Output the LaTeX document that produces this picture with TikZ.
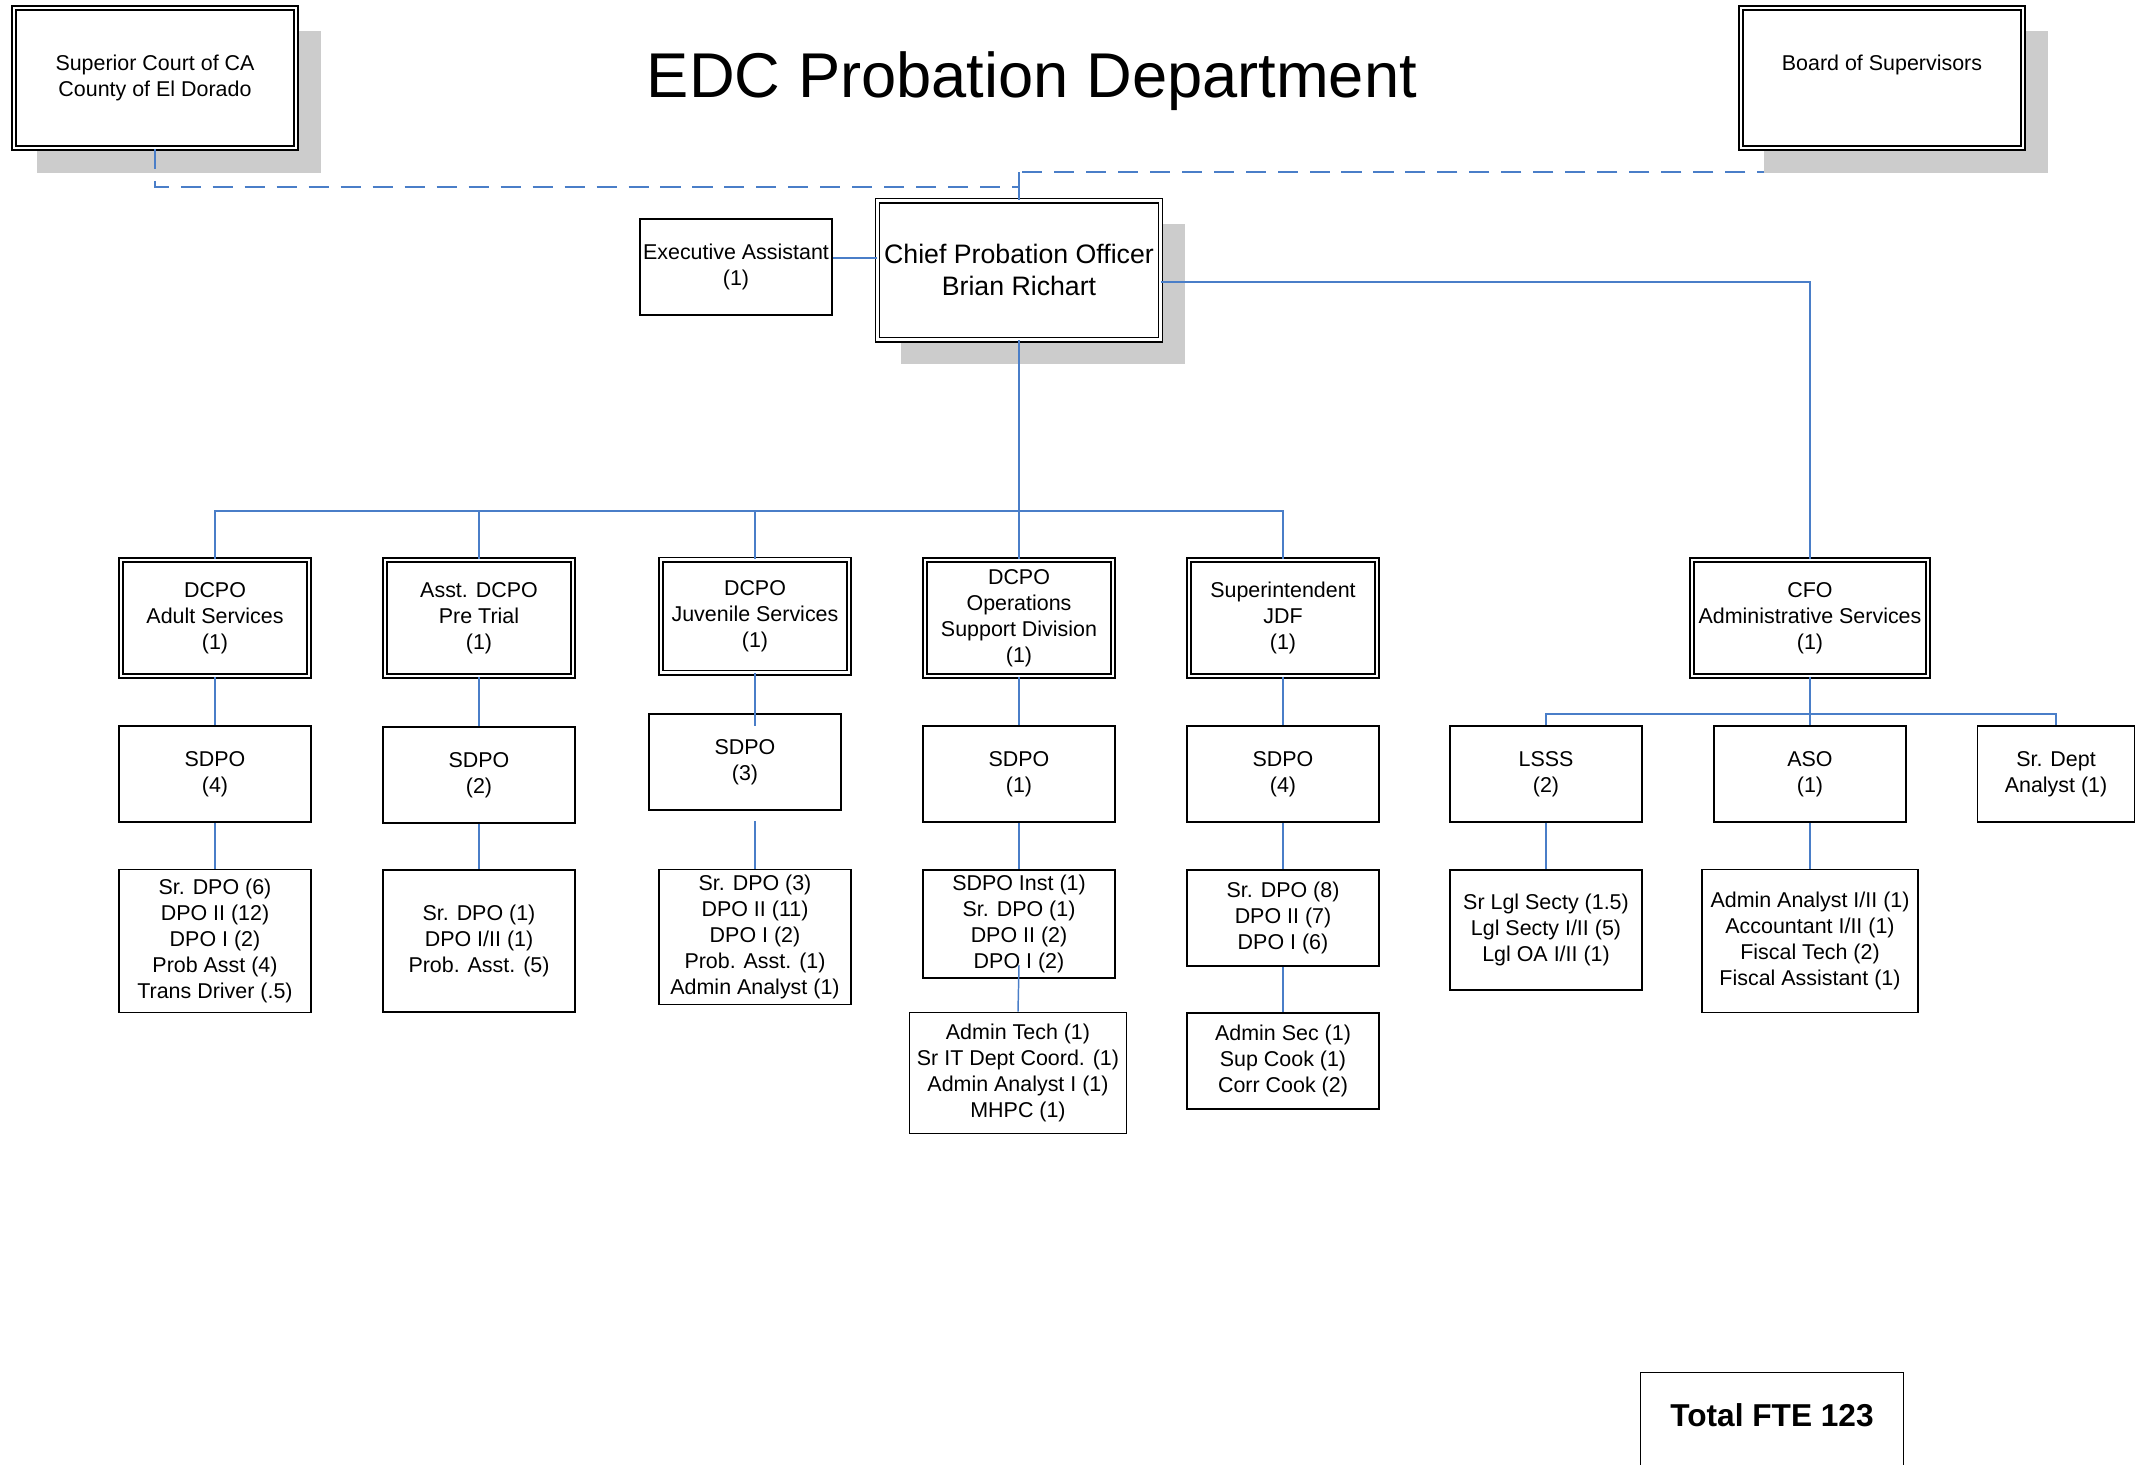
\documentclass[tikz,border=0pt]{standalone}
\usepackage{fontspec}
\setmainfont{Liberation Sans}
\usetikzlibrary{backgrounds}
\definecolor{connblue}{RGB}{74,126,200}
\definecolor{shadowgray}{RGB}{204,204,204}
\tikzset{
	orgbox/.style={draw, line width=0.55pt, fill=white, inner sep=0pt, align=center,
		minimum width=19.2mm, minimum height=9.6mm, font=\fontsize{6.1}{7.4}\selectfont},
	headbox/.style={orgbox, double, line width=0.45pt, double distance=0.8pt,
		minimum width=18.8mm, minimum height=11.6mm},
	wh/.style 2 args={minimum width=#1*0.1mm, minimum height=#2*0.1mm},
	conn/.style={draw=connblue, line width=0.42pt},
	dashconn/.style={conn, dash pattern=on 5.7pt off 3.4pt},
}
\begin{document}
\begin{tikzpicture}[x=0.1mm, y=-0.1mm]
	\useasboundingbox (0,0) rectangle (2148,1464);
	\clip (0,0) rectangle (2148,1464);
	\node[anchor=base, font=\fontsize{18}{21}\selectfont] (title) at (1032,97) {EDC Probation Department};
	\node[headbox, wh={282}{140}] (court) at (155,78) {Superior Court of CA\\County of El Dorado};
	\node[headbox, wh={282}{140}] (board) at (1882,78) {};
	\node[font=\fontsize{6.1}{7.4}\selectfont] (boardlabel) at (1882,65) {Board of Supervisors};
	\node[headbox, wh={283}{139}, font=\fontsize{7.6}{9.1}\selectfont] (chief) at (1019,270)
		{Chief Probation Officer\\Brian Richart};
	\node[orgbox] (exec) at (736,267) {Executive Assistant\\(1)};
	\node[headbox] (dcpoadult) at (215,618) {DCPO\\Adult Services\\(1)};
	\node[headbox] (asstdcpo) at (479,618) {Asst. DCPO\\Pre Trial\\(1)};
	\node[headbox, wh={188}{113}] (dcpojuv) at (755,616) {DCPO\\Juvenile Services\\(1)};
	\node[headbox] (dcpoops) at (1019,618) {DCPO\\Operations\\Support Division\\(1)};
	\node[headbox] (supt) at (1283,618) {Superintendent\\JDF\\(1)};
	\node[headbox, wh={236}{116}] (cfo) at (1810,618) {CFO\\Administrative Services\\(1)};
	\node[orgbox] (sdpoadult) at (215,774) {SDPO\\(4)};
	\node[orgbox] (sdpopre) at (479,775) {SDPO\\(2)};
	\node[orgbox] (sdpojuv) at (745,762) {SDPO\\(3)};
	\node[orgbox] (sdpoops) at (1019,774) {SDPO\\(1)};
	\node[orgbox] (sdpojdf) at (1283,774) {SDPO\\(4)};
	\node[orgbox] (lsss) at (1546,774) {LSSS\\(2)};
	\node[orgbox] (aso) at (1810,774) {ASO\\(1)};
	\node[orgbox, wh={157}{96}] (srdept) at (2056,774) {Sr. Dept\\Analyst (1)};
	\node[orgbox, wh={192}{143}] (staffadult) at (215,941)
		{Sr. DPO (6)\\DPO II (12)\\DPO I (2)\\Prob Asst (4)\\Trans Driver (.5)};
	\node[orgbox, wh={192}{142}] (staffpre) at (479,941) {Sr. DPO (1)\\DPO I/II (1)\\Prob. Asst. (5)};
	\node[orgbox, wh={192}{135}] (staffjuv) at (755,937)
		{Sr. DPO (3)\\DPO II (11)\\DPO I (2)\\Prob. Asst. (1)\\Admin Analyst (1)};
	\node[orgbox, wh={192}{108}] (staffops) at (1019,924) {SDPO Inst (1)\\Sr. DPO (1)\\DPO II (2)\\DPO I (2)};
	\node[orgbox, wh={217}{121}] (supportops) at (1018,1073)
		{Admin Tech (1)\\Sr IT Dept Coord. (1)\\Admin Analyst I (1)\\MHPC (1)};
	\node[orgbox] (staffjdf) at (1283,918) {Sr. DPO (8)\\DPO II (7)\\DPO I (6)};
	\node[orgbox] (supportjdf) at (1283,1061) {Admin Sec (1)\\Sup Cook (1)\\Corr Cook (2)};
	\node[orgbox, wh={192}{120}] (stafflsss) at (1546,930) {Sr Lgl Secty (1.5)\\Lgl Secty I/II (5)\\Lgl OA I/II (1)};
	\node[orgbox, wh={216}{143}] (staffaso) at (1810,941)
		{Admin Analyst I/II (1)\\Accountant I/II (1)\\Fiscal Tech (2)\\Fiscal Assistant (1)};
	\node[orgbox, wh={263}{187}] (total) at (1772,1466) {};
	\node[font=\fontsize{9}{11}\selectfont\bfseries] (totallabel) at (1772,1415) {Total FTE 123};
	\coordinate (chiefbus) at (1019,511);
	\coordinate (cfobus) at (1810,714);
	\coordinate (oversight) at (1019,172);
	\coordinate (courtline) at (1019,187);
	\coordinate (juvdrop) at (755,726);
	\coordinate (juvrise) at (755,821);
	\coordinate (opsdrop) at (1019,965);
	\begin{scope}[on background layer]
		\draw[dashconn] (board.south) |- (oversight);
		\foreach \n in {court,board,chief}
			\fill[shadowgray] ([shift={(24,24)}]\n.south west) rectangle ([shift={(24,24)}]\n.north east);
	\end{scope}
	\draw[dashconn] (court.south) |- (courtline);
	\draw[conn] (oversight) -- (chief.north);
	\draw[conn] ([yshift=0.9mm]exec.east) -- ([yshift=0.9mm]exec.east -| chief.west);
	\draw[conn] ([yshift=-1.2mm]chief.east) -| (cfo.north);
	\foreach \n in {dcpoadult,asstdcpo,dcpojuv,dcpoops,supt}
		\draw[conn] (chief.south) -- (chiefbus) -| (\n.north);
	\foreach \a/\b in {dcpoadult/sdpoadult, asstdcpo/sdpopre, dcpoops/sdpoops, supt/sdpojdf,
		sdpoadult/staffadult, sdpopre/staffpre, sdpoops/staffops, sdpojdf/staffjdf,
		staffjdf/supportjdf, lsss/stafflsss, aso/staffaso}
		\draw[conn] (\a.south) -- (\b.north);
	\draw[conn] (dcpojuv.south) -- (juvdrop);
	\draw[conn] (juvrise) -- (staffjuv.north);
	\draw[conn] (opsdrop) -- (supportops.north);
	\foreach \n in {lsss,aso,srdept}
		\draw[conn] (cfo.south) -- (cfobus) -| (\n.north);
\end{tikzpicture}
\end{document}
